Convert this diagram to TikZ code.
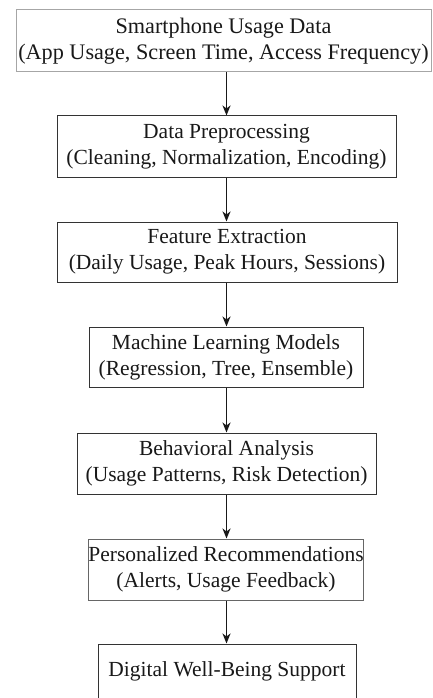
\documentclass[tikz,border=0pt]{standalone}
\usepackage{fontspec}
\setmainfont{Liberation Serif}
\usetikzlibrary{arrows.meta}
\begin{document}
\begin{tikzpicture}[x=1pt,y=-1pt,
  stepbox/.style={draw=black!80, line width=1pt, fill=white, text=black!90,
    align=center, inner sep=0pt, font=\fontsize{21.5}{26}\selectfont},
  arr/.style={draw=black!90, line width=1.8pt, -{Stealth[length=10pt,width=8pt,inset=3pt]}}]
\useasboundingbox (0,0) rectangle (433,698);
\node[stepbox, draw=black!35, font=\fontsize{22.2}{26.5}\selectfont,
  minimum width=415pt, minimum height=62pt] (b1) at (223.5,41)
  {Smartphone Usage Data\\(App Usage, Screen Time, Access Frequency)};
\node[stepbox, minimum width=339pt, minimum height=61pt] (b2) at (226.5,146.5)
  {Data Preprocessing\\(Cleaning, Normalization, Encoding)};
\node[stepbox, minimum width=340pt, minimum height=60pt] (b3) at (227,252)
  {Feature Extraction\\(Daily Usage, Peak Hours, Sessions)};
\node[stepbox, minimum width=274pt, minimum height=60pt] (b4) at (226,357)
  {Machine Learning Models\\(Regression, Tree, Ensemble)};
\node[stepbox, minimum width=299pt, minimum height=61pt] (b5) at (226.5,463.5)
  {Behavioral Analysis\\(Usage Patterns, Risk Detection)};
\node[stepbox, draw=black!60, minimum width=274pt, minimum height=61pt] (b6) at (226,569.5)
  {Personalized Recommendations\\(Alerts, Usage Feedback)};
\node[stepbox, minimum width=258pt, minimum height=54pt] (b7) at (227,671)
  {Digital Well-Being Support};
\draw[arr] (b1.south -| b2.north) -- (b2.north);
\draw[arr] (b2.south) -- (b3.north -| b2.south);
\draw[arr] (b3.south -| b2.south) -- (b4.north -| b2.south);
\draw[arr] (b4.south -| b2.south) -- (b5.north -| b2.south);
\draw[arr] (b5.south -| b2.south) -- (b6.north -| b2.south);
\draw[arr] (b6.south -| b2.south) -- (b7.north -| b2.south);
\end{tikzpicture}
\end{document}
